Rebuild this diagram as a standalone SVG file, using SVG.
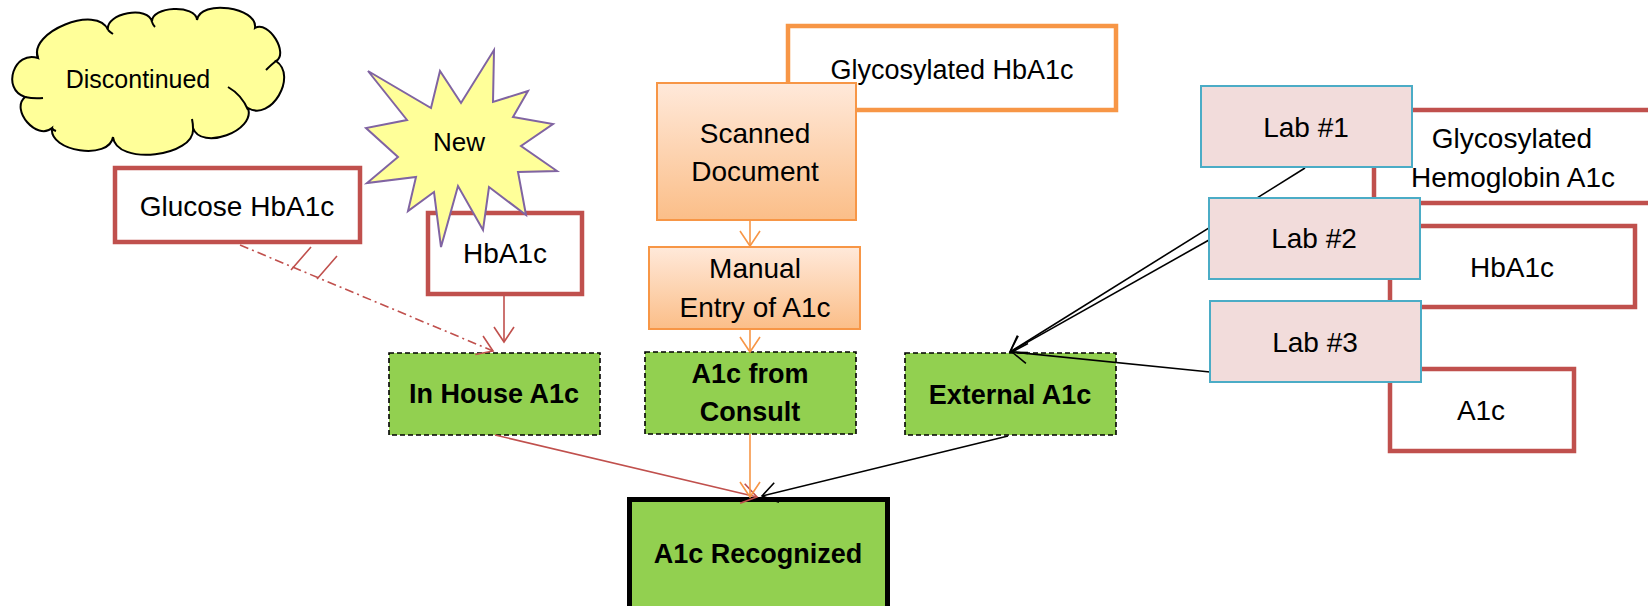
<svg xmlns="http://www.w3.org/2000/svg" width="1648" height="606" viewBox="0 0 1648 606">
  <style>
    text { font-family: "Liberation Sans", Arial, sans-serif; font-size: 28px; fill: #000; text-anchor: middle; }
    .bold { font-weight: bold; font-size: 27px; }
    .label { fill: #fff; stroke: #C0504D; stroke-width: 4.5; }
    .label-or { fill: #fff; stroke: #F79646; stroke-width: 4.5; }
    .step { fill: url(#peach); stroke: #F79646; stroke-width: 2; }
    .result { fill: #92D050; stroke: #000; stroke-width: 1.6; stroke-dasharray: 5 3; }
    .lab { fill: #F2DCDB; stroke: #4BACC6; stroke-width: 2; }
    .cn { fill: none; stroke-width: 1.6; }
    .red { stroke: #C0504D; }
    .orange { stroke: #F79646; }
    .black { stroke: #000; }
  </style>
  <defs>
    <linearGradient id="peach" x1="0" y1="0" x2="0" y2="1">
      <stop offset="0" stop-color="#FFE9DA"/>
      <stop offset="1" stop-color="#FBBE88"/>
    </linearGradient>
    <marker id="arrow-red" markerUnits="userSpaceOnUse" markerWidth="20" markerHeight="24" refX="17" refY="11" orient="auto" viewBox="0 0 20 22">
      <path d="M2 1 L17 11 L2 21" fill="none" stroke="#C0504D" stroke-width="1.6"/>
    </marker>
    <marker id="arrow-orange" markerUnits="userSpaceOnUse" markerWidth="20" markerHeight="24" refX="17" refY="11" orient="auto" viewBox="0 0 20 22">
      <path d="M2 1 L17 11 L2 21" fill="none" stroke="#F79646" stroke-width="1.6"/>
    </marker>
    <marker id="arrow-black" markerUnits="userSpaceOnUse" markerWidth="20" markerHeight="24" refX="17" refY="11" orient="auto" viewBox="0 0 20 22">
      <path d="M2 1 L17 11 L2 21" fill="none" stroke="#000" stroke-width="1.6"/>
    </marker>
  </defs>

  <!-- term labels behind the source boxes -->
  <g id="glucose-hba1c">
    <rect class="label" x="115" y="168" width="245" height="74"/>
    <text x="237" y="216">Glucose HbA1c</text>
  </g>
  <g id="hba1c-inhouse">
    <rect class="label" x="428" y="213" width="154" height="81"/>
    <text x="505" y="263">HbA1c</text>
  </g>
  <g id="glycosylated-hba1c">
    <rect class="label-or" x="788" y="26" width="328" height="84"/>
    <text x="952" y="79" style="font-size:27px">Glycosylated HbA1c</text>
  </g>
  <g id="glycosylated-hemoglobin">
    <rect class="label" x="1374" y="110" width="300" height="93"/>
    <text x="1512" y="148">Glycosylated</text>
    <text x="1513" y="187">Hemoglobin A1c</text>
  </g>
  <g id="hba1c-external">
    <rect class="label" x="1390" y="226" width="245" height="81"/>
    <text x="1512" y="277">HbA1c</text>
  </g>
  <g id="a1c-external">
    <rect class="label" x="1390" y="369" width="184" height="82"/>
    <text x="1481" y="420">A1c</text>
  </g>

  <!-- status callouts -->
  <g id="discontinued">
    <path d="M38 58 C14 50 1 89 25 97 C10 110 37 141 52 128 C48.5 151.7 109.5 160.7 113 137 C116 166 196 157 193 128 C201 151 256 131 248 108 C271 122 298 76 276 61 C289 54 269 20 255 28 C258 7 200 -1 197 20 C196 4 151 6 152 22 C149 5 105 13 108 30 C97.6 4 27.6 32 38 58 Z" fill="#FFFF99" stroke="#000" stroke-width="2"/>
    <path d="M25 97 Q34 99 43 98 M228 87 Q242 95 248 110 M266 70 Q272 64 276 61 M38 58 Q37 55 37 51 M152 22 Q153 25 155 27 M108 30 Q110 32 113 34 M52 128 Q53 130 56 131 M193 128 Q193 124 192 119" fill="none" stroke="#000" stroke-width="2"/>
    <text x="138" y="88" style="font-size:25px">Discontinued</text>
  </g>
  <g id="new">
    <polygon points="494,50 493,102 528,91 513,117 553,124 521,146 557,171 518,172 526,215 489,187 483,230 458,186 441,247 434,192 408,211 416,177 367,183 398,157 366,128 407,120 368,71 431,108 440,71 461,103" fill="#FFFF99" stroke="#8064A2" stroke-width="2" stroke-linejoin="miter"/>
    <text x="459" y="151" style="font-size:26px">New</text>
  </g>

  <!-- source steps -->
  <g id="scanned-document">
    <rect class="step" x="657" y="83" width="199" height="137"/>
    <text x="755" y="143">Scanned</text>
    <text x="755" y="181">Document</text>
  </g>
  <g id="manual-entry">
    <rect class="step" x="649" y="247" width="211" height="82"/>
    <text x="755" y="278">Manual</text>
    <text x="755" y="317">Entry of A1c</text>
  </g>

  <!-- result categories -->
  <g id="in-house-a1c">
    <rect class="result" x="389" y="353" width="211" height="82"/>
    <text class="bold" x="494" y="403">In House A1c</text>
  </g>
  <g id="a1c-from-consult">
    <rect class="result" x="645" y="352" width="211" height="82"/>
    <text class="bold" x="750" y="383">A1c from</text>
    <text class="bold" x="750" y="421">Consult</text>
  </g>
  <g id="external-a1c">
    <rect class="result" x="905" y="353" width="211" height="82"/>
    <text class="bold" x="1010" y="404">External A1c</text>
  </g>
  <g id="a1c-recognized">
    <rect x="629.5" y="499.5" width="258" height="112" fill="#92D050" stroke="#000" stroke-width="5"/>
    <text class="bold" x="758" y="563">A1c Recognized</text>
  </g>

  <!-- connectors -->
  <g id="connectors">
    <path class="cn red" d="M240 245 L493 351" stroke-dasharray="9 4 2 4" marker-end="url(#arrow-red)"/>
    <path class="cn red" d="M291 270 L311 247 M317 279 L337 256"/>
    <path class="cn red" d="M504 296 L504 342" marker-end="url(#arrow-red)"/>
    <path class="cn orange" d="M750 221 L750 246" marker-end="url(#arrow-orange)"/>
    <path class="cn orange" d="M750 330 L750 352" marker-end="url(#arrow-orange)"/>
    <path class="cn red" d="M495 435 L757 497" marker-end="url(#arrow-red)"/>
    <path class="cn orange" d="M750 434 L750 497" marker-end="url(#arrow-orange)"/>
    <path class="cn black" d="M1008 436 L762 496" marker-end="url(#arrow-black)"/>
    <path class="cn black" d="M1305 168 L1010 352" marker-end="url(#arrow-black)"/>
    <path class="cn black" d="M1209 240 L1010 352" marker-end="url(#arrow-black)"/>
    <path class="cn black" d="M1210 372 L1012 352" marker-end="url(#arrow-black)"/>
  </g>

  <!-- external labs -->
  <g id="lab-1">
    <rect class="lab" x="1201" y="86" width="211" height="81"/>
    <text x="1306" y="137">Lab #1</text>
  </g>
  <g id="lab-2">
    <rect class="lab" x="1209" y="198" width="211" height="81"/>
    <text x="1314" y="248">Lab #2</text>
  </g>
  <g id="lab-3">
    <rect class="lab" x="1210" y="301" width="211" height="81"/>
    <text x="1315" y="352">Lab #3</text>
  </g>
</svg>
